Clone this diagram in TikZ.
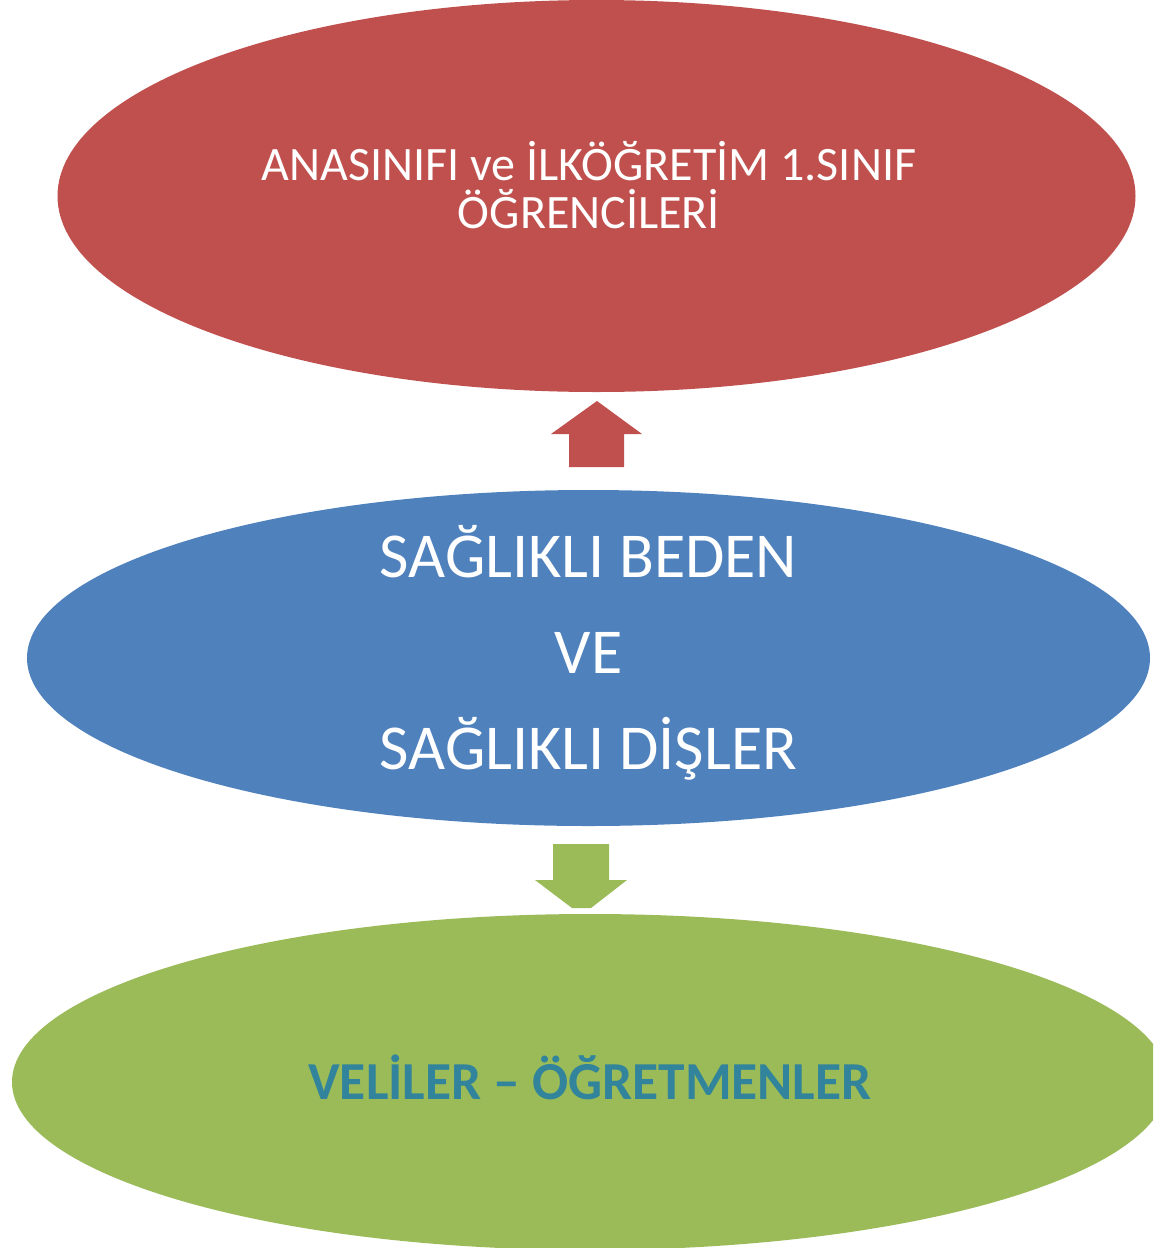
\documentclass[tikz,border=0pt]{standalone}
\usepackage{fontspec}
\setmainfont{Carlito}
\usepackage{xcolor}
\usetikzlibrary{shapes.geometric}

\definecolor{redfill}{HTML}{C0504D}
\definecolor{bluefill}{HTML}{4F81BD}
\definecolor{greenfill}{HTML}{9BBB59}
\definecolor{tealtext}{HTML}{31849B}

\begin{document}
\begin{tikzpicture}[x=0.5pt, y=-0.5pt,
  oval/.style={ellipse, inner sep=0pt},
  caption/.style={inner sep=0pt, align=center}]

% Fix the page and cut the last oval
\useasboundingbox (0,0) rectangle (1153,1248);
\clip (0,0) rectangle (1153,1248);

% Draw the three ovals
\node[oval, fill=redfill, minimum width=539pt, minimum height=196pt] (pupils) at (596.5,196) {};
\node[oval, fill=bluefill, minimum width=561.5pt, minimum height=168pt] (health) at (588.5,658) {};
\node[oval, fill=greenfill, minimum width=578pt, minimum height=168pt] (adults) at (590,1082) {};

% Texts of the ovals
\node[caption, text=white, font={\fontsize{24}{24.2}\selectfont}] (pupilstext)
  at ([shift={(-7.5,-11)}]pupils.center) {ANASINIFI ve İLKÖĞRETİM 1.SINIF\\ÖĞRENCİLERİ};
\node[caption, text=white, font={\fontsize{32}{48}\selectfont}] (healthtext)
  at ([shift={(0,-5)}]health.center) {SAĞLIKLI BEDEN\\VE\\SAĞLIKLI DİŞLER};
\node[caption, text=tealtext, font={\bfseries\fontsize{26.7}{30}\selectfont}] (adultstext)
  at ([shift={(0,-5)}]adults.center) {VELİLER – ÖĞRETMENLER};

% Block arrow up to the pupils
\coordinate (uptip) at (597,401);
\fill[redfill] (uptip) -- ++(45,33) -- ++(-18,0) -- ++(0,33) -- ++(-55,0)
  -- ++(0,-33) -- ++(-18,0) -- cycle;

% Block arrow down to the parents
\coordinate (downtop) at (553,844);
\fill[greenfill] (downtop) -- ++(56,0) -- ++(0,36) -- ++(18,0) -- ++(-36,28)
  -- ++(-19,0) -- ++(-37,-28) -- ++(18,0) -- cycle;

\end{tikzpicture}
\end{document}
